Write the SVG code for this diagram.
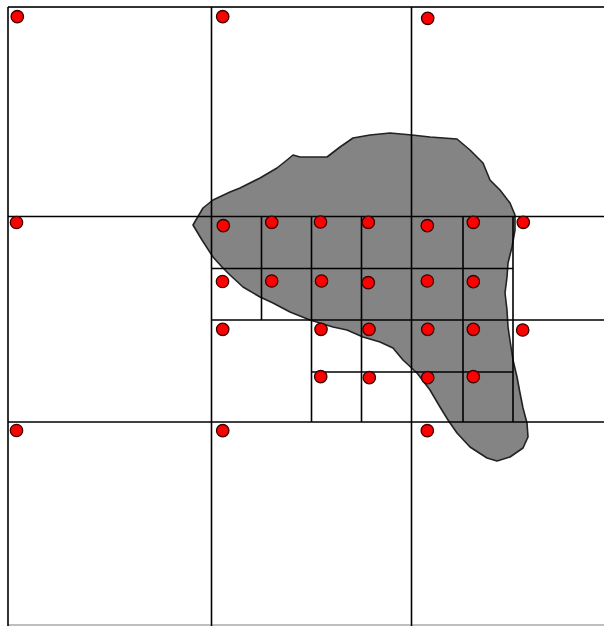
<svg xmlns="http://www.w3.org/2000/svg" width="604" height="626" viewBox="0 0 604 626">
<style>
.grid line{stroke:#000;stroke-width:1.6;fill:none}
.pt{fill:#ff0000;stroke:#3a0000;stroke-width:1.3}
.blob{fill:#858485;stroke:#222;stroke-width:1.6;stroke-linejoin:round}
</style>
<rect x="0" y="0" width="604" height="626" fill="#ffffff"/>
<g id="region">
<path class="blob" d="M193,225 L203,208 L213,200 L230,192 L240,188 L260,178 L277,168 L287,160 L293,155 L300,157 L327,157 L340,147 L353,138 L370,135 L390,133 L412,135 L430,137 L457,139 L470,150 L483,163 L490,180 L500,190 L510,203 L515,215 L515,230 L512,247 L508,263 L507,277 L505,293 L507,310 L508,327 L511,347 L513,360 L517,377 L520,393 L523,408 L527,423 L528,437 L523,448 L510,457 L497,461 L487,458 L470,447 L457,433 L448,420 L440,407 L430,390 L417,373 L403,360 L393,348 L380,342 L363,337 L347,330 L333,327 L310,320 L290,312 L273,303 L260,297 L243,287 L230,275 L222,267 L213,257 L202,240 Z"/>
</g>
<g id="grid" class="grid">
<line x1="8" y1="7" x2="604" y2="7" style="stroke:#333;stroke-width:2"/>
<line x1="8" y1="625" x2="604" y2="625" style="stroke:#aaa;stroke-width:1.5"/>
<line x1="8" y1="7" x2="8" y2="626"/>
<line x1="211.5" y1="7" x2="211.5" y2="626"/>
<line x1="411.5" y1="7" x2="411.5" y2="626"/>
<line x1="8" y1="216.5" x2="604" y2="216.5"/>
<line x1="8" y1="422" x2="604" y2="422"/>
<line x1="211.5" y1="320" x2="604" y2="320"/>
<line x1="211.5" y1="268.5" x2="513" y2="268.5"/>
<line x1="311.5" y1="372" x2="513" y2="372"/>
<line x1="261.5" y1="216.5" x2="261.5" y2="320"/>
<line x1="311.5" y1="216.5" x2="311.5" y2="422"/>
<line x1="361.5" y1="216.5" x2="361.5" y2="422"/>
<line x1="463" y1="216.5" x2="463" y2="422"/>
<line x1="513" y1="216.5" x2="513" y2="422"/>
</g>
<g id="points">
<circle class="pt" cx="17.3" cy="16.7" r="6.2"/>
<circle class="pt" cx="222.7" cy="16.7" r="6.2"/>
<circle class="pt" cx="427.7" cy="18.3" r="6.2"/>
<circle class="pt" cx="16.5" cy="222.5" r="6.2"/>
<circle class="pt" cx="223.3" cy="225.7" r="6.2"/>
<circle class="pt" cx="271.7" cy="222.3" r="6.2"/>
<circle class="pt" cx="320.5" cy="222" r="6.2"/>
<circle class="pt" cx="368.3" cy="222.3" r="6.2"/>
<circle class="pt" cx="427.3" cy="225.7" r="6.2"/>
<circle class="pt" cx="473.3" cy="222.3" r="6.2"/>
<circle class="pt" cx="523.3" cy="222.3" r="6.2"/>
<circle class="pt" cx="222.5" cy="281.5" r="6.2"/>
<circle class="pt" cx="271.7" cy="281" r="6.2"/>
<circle class="pt" cx="321.5" cy="281" r="6.2"/>
<circle class="pt" cx="368.3" cy="282.7" r="6.2"/>
<circle class="pt" cx="427.3" cy="281" r="6.2"/>
<circle class="pt" cx="473.3" cy="281.7" r="6.2"/>
<circle class="pt" cx="222.7" cy="329.3" r="6.2"/>
<circle class="pt" cx="321" cy="329.3" r="6.2"/>
<circle class="pt" cx="369" cy="329.3" r="6.2"/>
<circle class="pt" cx="427.7" cy="329.3" r="6.2"/>
<circle class="pt" cx="473.3" cy="329.3" r="6.2"/>
<circle class="pt" cx="522.7" cy="330" r="6.2"/>
<circle class="pt" cx="320.7" cy="376.7" r="6.2"/>
<circle class="pt" cx="369.3" cy="377.7" r="6.2"/>
<circle class="pt" cx="427.7" cy="377.7" r="6.2"/>
<circle class="pt" cx="473.3" cy="376.7" r="6.2"/>
<circle class="pt" cx="16.5" cy="430.5" r="6.2"/>
<circle class="pt" cx="222.7" cy="430.7" r="6.2"/>
<circle class="pt" cx="427.3" cy="430.7" r="6.2"/>
</g>
</svg>
